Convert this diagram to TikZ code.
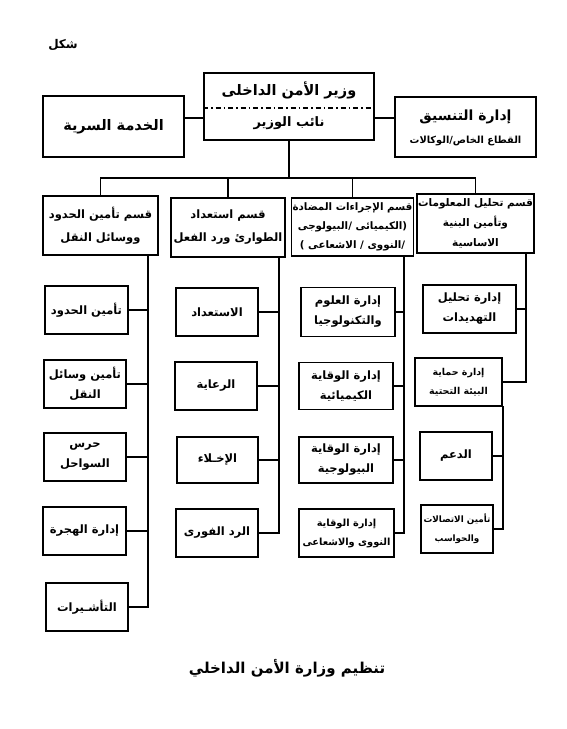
\documentclass[tikz,border=0pt]{standalone}
\usepackage{fontspec}
\newfontfamily\arfont[Script=Arabic]{DejaVu Sans}
\TeXXeTstate=1
\newcommand{\AR}[1]{\beginR #1\endR}
\usetikzlibrary{calc}
\begin{document}
\begin{tikzpicture}[x=1pt,y=-1pt,
  bx/.style={draw, line width=1.6pt, inner sep=1pt, align=center,
    font=\arfont\bfseries\fontsize{11.5}{20}\selectfont},
  hd/.style={bx, font=\arfont\bfseries\fontsize{11.5}{23}\selectfont},
  txt/.style={inner sep=0pt, align=center, font=\arfont\bfseries\fontsize{14}{16}\selectfont},
  ln/.style={line width=1.5pt}]
\useasboundingbox (0,0) rectangle (567,729);

\node[txt, font=\arfont\bfseries\fontsize{12}{14}\selectfont] (fig) at (63,45) {\AR{شكل}};

% top row
\node[bx, minimum width=170pt, minimum height=67pt] (min) at (289,106.5) {};
\node[txt, font=\arfont\bfseries\fontsize{14.5}{16}\selectfont] (minA) at (289,90) {\AR{وزير الأمن الداخلى}};
\node[txt, font=\arfont\bfseries\fontsize{13}{15}\selectfont] (minB) at (289,123) {\AR{نائب الوزير}};
\draw[line width=1.4pt, dash pattern=on 5pt off 3pt on 1.5pt off 3pt] ($(min.west)+(0,1.5)$) -- ($(min.east)+(0,1.5)$);

\node[bx, minimum width=141pt, minimum height=61pt, font=\arfont\bfseries\fontsize{14.5}{16}\selectfont] (sec) at (113.5,126.5) {\AR{الخدمة السرية}};
\node[bx, minimum width=141pt, minimum height=60pt] (coord) at (465.5,127) {};
\node[txt] (coA) at (465.5,117) {\AR{إدارة التنسيق}};
\node[txt, font=\arfont\bfseries\fontsize{9.8}{11}\selectfont] (coB) at (465.5,141) {\AR{القطاع الخاص/الوكالات}};

\coordinate (hl) at (0,118);
\draw[ln] (sec.east |- hl) -- (min.west |- hl);
\draw[ln] (min.east |- hl) -- (coord.west |- hl);

% column headers
\node[hd, minimum width=115pt, minimum height=59pt] (c1) at (100.5,225.5) {\AR{قسم تأمين الحدود}\\\AR{ووسائل النقل}};
\node[hd, minimum width=114pt, minimum height=59pt] (c2) at (228,227.5) {\AR{قسم استعداد}\\\AR{الطوارئ ورد الفعل}};
\node[bx, minimum width=119pt, minimum height=58pt, font=\arfont\bfseries\fontsize{10.3}{19}\selectfont] (c3) at (352.5,227) {\AR{قسم الإجراءات المضادة}\\\AR{(الكيميائى /البيولوجى}\\\AR{/النووى / الاشعاعى )}};
\node[bx, minimum width=115pt, minimum height=59pt, font=\arfont\bfseries\fontsize{10.5}{20}\selectfont] (c4) at (475.5,223.5) {\AR{قسم تحليل المعلومات}\\\AR{وتأمين البنية}\\\AR{الاساسية}};

\coordinate (bus) at (min.south |- 0,178);
\draw[ln] (min.south) -- (bus);
\draw[ln] (c1.north) |- (bus) -| (c4.north);
\draw[ln] (c2.north) -- (c2.north |- bus);
\draw[ln] (c3.north) -- (c3.north |- bus);

% column 1
\node[bx, minimum width=83pt, minimum height=48pt] (s11) at (86.5,310) {\AR{تأمين الحدود}};
\node[bx, minimum width=82pt, minimum height=48pt] (s12) at (85,384) {\AR{تأمين وسائل}\\\AR{النقل}};
\node[bx, minimum width=82pt, minimum height=48pt] (s13) at (85,457) {\AR{حرس}\\\AR{السواحل}};
\node[bx, minimum width=83pt, minimum height=48pt] (s14) at (84.5,531) {\AR{إدارة الهجرة}};
\node[bx, minimum width=82pt, minimum height=48pt] (s15) at (87,607) {\AR{التأشـيرات}};
\coordinate (v1) at (148,255);
\draw[ln] (v1) -- (v1 |- s15.east) -- (s15.east);
\foreach \n in {s11,s12,s13,s14} \draw[ln] (\n.east) -- (\n.east -| v1);

% column 2
\node[bx, minimum width=82pt, minimum height=48pt] (s21) at (217,312) {\AR{الاستعداد}};
\node[bx, minimum width=82pt, minimum height=48pt] (s22) at (216,386) {\AR{الرعاية}};
\node[bx, minimum width=81pt, minimum height=46pt] (s23) at (217.5,460) {\AR{الإخـلاء}};
\node[bx, minimum width=82pt, minimum height=48pt] (s24) at (217,533) {\AR{الرد الفورى}};
\coordinate (v2) at (279,257);
\draw[ln] (v2) -- (v2 |- s24.east) -- (s24.east);
\foreach \n in {s21,s22,s23} \draw[ln] (\n.east) -- (\n.east -| v2);

% column 3
\node[bx, minimum width=94pt, minimum height=49pt] (s31) at (348,312) {\AR{إدارة العلوم}\\\AR{والتكنولوجيا}};
\node[bx, minimum width=94pt, minimum height=47pt] (s32) at (346,386) {\AR{إدارة الوقاية}\\\AR{الكيميائية}};
\node[bx, minimum width=94pt, minimum height=46pt] (s33) at (346,460) {\AR{إدارة الوقاية}\\\AR{البيولوجية}};
\node[bx, minimum width=95pt, minimum height=48pt, font=\arfont\bfseries\fontsize{9.8}{19}\selectfont] (s34) at (346.5,533) {\AR{إدارة الوقاية}\\\AR{النووى والاشعاعى}};
\coordinate (v3) at (404,256);
\draw[ln] (v3) -- (v3 |- s34.east) -- (s34.east);
\foreach \n in {s31,s32,s33} \draw[ln] (\n.east) -- (\n.east -| v3);

% column 4
\node[bx, minimum width=93pt, minimum height=48pt] (s41) at (469.5,309) {\AR{إدارة تحليل}\\\AR{التهديدات}};
\node[bx, minimum width=87pt, minimum height=48pt, font=\arfont\bfseries\fontsize{9.5}{19}\selectfont] (s42) at (458.5,382) {\AR{إدارة حماية}\\\AR{البيئة التحتية}};
\node[bx, minimum width=72pt, minimum height=48pt] (s43) at (456,456) {\AR{الدعم}};
\node[bx, minimum width=72pt, minimum height=48pt, font=\arfont\bfseries\fontsize{8.8}{19}\selectfont] (s44) at (457,529) {\AR{تأمين الاتصالات}\\\AR{والحواسب}};
\coordinate (v4) at (526,253);
\draw[ln] (v4) -- (v4 |- s42.east) -- (s42.east);
\draw[ln] (s41.east) -- (s41.east -| v4);
\coordinate (v5) at (503,406);
\draw[ln] (v5) -- (v5 |- s44.east) -- (s44.east);
\draw[ln] (s43.east) -- (s43.east -| v5);

% title
\node[txt, font=\arfont\bfseries\fontsize{15}{18}\selectfont] (title) at (287,668) {\AR{تنظيم وزارة الأمن الداخلي}};
\end{tikzpicture}
\end{document}
